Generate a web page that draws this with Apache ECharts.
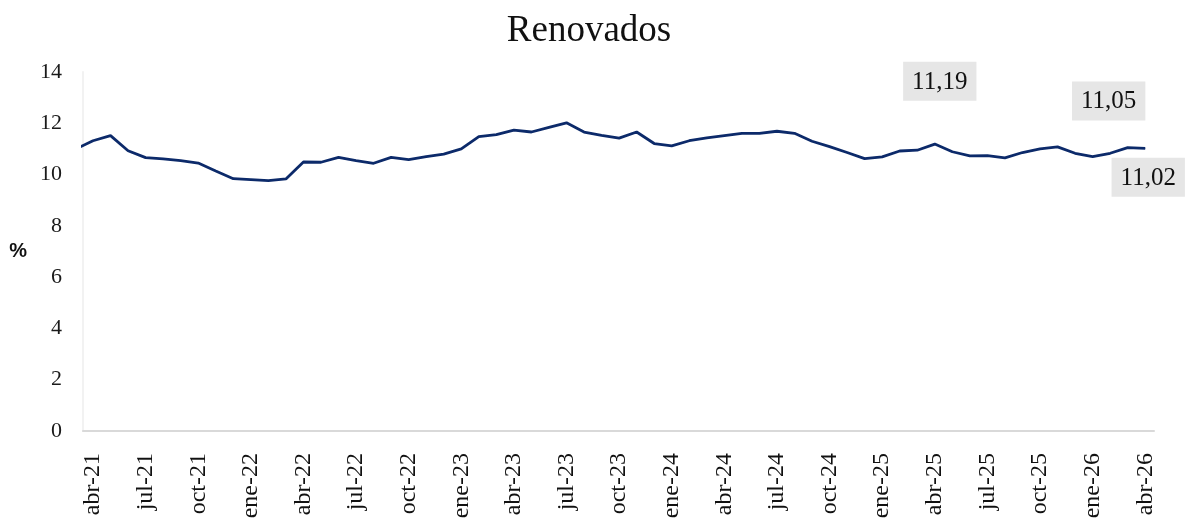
<!DOCTYPE html>
<html>
<head>
<meta charset="utf-8">
<script src="https://cdn.jsdelivr.net/npm/echarts@6/dist/echarts.min.js"></script>
<style>
  html, body { margin: 0; padding: 0; background: #fff; }
  #chart { width: 1191px; height: 527px; }
</style>
</head>
<body>
<div id="chart"></div>
<script>
// monthly values, mar-21 .. abr-26 (mar-21 only shows as the clipped start of the line)
const months = [
  'mar-21', 'abr-21', 'may-21', 'jun-21', 'jul-21', 'ago-21', 'sep-21', 'oct-21', 'nov-21', 'dic-21',
  'ene-22', 'feb-22', 'mar-22', 'abr-22', 'may-22', 'jun-22', 'jul-22', 'ago-22', 'sep-22', 'oct-22', 'nov-22', 'dic-22',
  'ene-23', 'feb-23', 'mar-23', 'abr-23', 'may-23', 'jun-23', 'jul-23', 'ago-23', 'sep-23', 'oct-23', 'nov-23', 'dic-23',
  'ene-24', 'feb-24', 'mar-24', 'abr-24', 'may-24', 'jun-24', 'jul-24', 'ago-24', 'sep-24', 'oct-24', 'nov-24', 'dic-24',
  'ene-25', 'feb-25', 'mar-25', 'abr-25', 'may-25', 'jun-25', 'jul-25', 'ago-25', 'sep-25', 'oct-25', 'nov-25', 'dic-25',
  'ene-26', 'feb-26', 'mar-26', 'abr-26'
]
const renovados = [
  10.99, 11.32, 11.52, 10.93, 10.66, 10.61, 10.54, 10.45, 10.14, 9.84,
  9.80, 9.76, 9.83, 10.49, 10.48, 10.67, 10.54, 10.44, 10.67, 10.58, 10.70, 10.80,
  11.00, 11.48, 11.56, 11.73, 11.66, 11.84, 12.02, 11.66, 11.53, 11.42, 11.66, 11.21,
  11.12, 11.32, 11.43, 11.52, 11.61, 11.61, 11.69, 11.61, 11.30, 11.09, 10.86, 10.62,
  10.69, 10.92, 10.95, 11.19, 10.89, 10.73, 10.74, 10.65, 10.86, 11.00, 11.08, 10.83,
  10.70, 10.83, 11.05, 11.02
]
// x labels shown every 3 months
const tickLabels = [
  'abr-21', 'jul-21', 'oct-21', 'ene-22', 'abr-22', 'jul-22', 'oct-22', 'ene-23', 'abr-23', 'jul-23', 'oct-23',
  'ene-24', 'abr-24', 'jul-24', 'oct-24', 'ene-25', 'abr-25', 'jul-25', 'oct-25', 'ene-26', 'abr-26'
]
const yTicks = [0, 2, 4, 6, 8, 10, 12, 14]

const serif = 'Liberation Serif'
const navy = '#0c2a6a'
const fmt = v => v.toFixed(2).replace('.', ',')

// labelled points: [month, position, distance, offset]
const callouts = [
  ['abr-25', 'top', 43, [5, 0]],
  ['mar-26', 'top', 27, [-19, 0]],
  ['abr-26', 'bottom', 9, [3, 0]]
]

const tickIdx = tickLabels.map(l => months.indexOf(l))

const seriesData = renovados.map((v, i) => {
  const item = { value: [i, v] }
  const c = callouts.find(c => c[0] === months[i])
  if (c) {
    item.label = {
      show: true,
      position: c[1],
      distance: c[2],
      offset: c[3],
      formatter: p => fmt(p.value[1]),
      fontFamily: serif,
      fontSize: 25,
      color: '#111',
      backgroundColor: '#e6e6e6',
      padding: [8, 9, 6, 9]
    }
  }
  return item
})

const chart = echarts.init(document.getElementById('chart'))
chart.setOption({
  animation: false,
  title: {
    text: 'Renovados',
    left: 584,
    textAlign: 'center',
    top: 8,
    textStyle: { fontFamily: serif, fontSize: 37, fontWeight: 'normal', color: '#111' }
  },
  grid: { left: 83, right: 37, top: 72, bottom: 96 },
  xAxis: {
    type: 'value',
    min: 0.43,
    max: 61.5,
    splitLine: { show: false },
    axisTick: { show: false },
    axisLine: { lineStyle: { color: '#d9d9d9', width: 2 } },
    axisLabel: {
      customValues: tickIdx,
      rotate: 90,
      margin: 22,
      fontFamily: serif,
      fontSize: 24,
      color: '#111',
      formatter: v => months[v]
    }
  },
  yAxis: {
    type: 'value',
    min: 0,
    max: 14,
    interval: 2,
    name: '%',
    nameLocation: 'middle',
    nameRotate: 0,
    nameGap: 56,
    nameTextStyle: { fontFamily: 'Liberation Sans', fontSize: 20, fontWeight: 'bold', color: '#111' },
    splitLine: { show: false },
    axisTick: { show: false },
    axisLine: { show: true, lineStyle: { color: '#f2f2f2', width: 2 } },
    axisLabel: {
      customValues: yTicks,
      margin: 21,
      fontFamily: serif,
      fontSize: 22,
      color: '#1a1a1a'
    }
  },
  series: [{
    name: 'Renovados',
    type: 'line',
    data: seriesData,
    showSymbol: true,
    symbol: 'circle',
    symbolSize: 0.5,
    itemStyle: { color: navy },
    clip: true,
    lineStyle: { color: navy, width: 2.8 },
    emphasis: { disabled: true }
  }]
})
</script>
</body>
</html>
